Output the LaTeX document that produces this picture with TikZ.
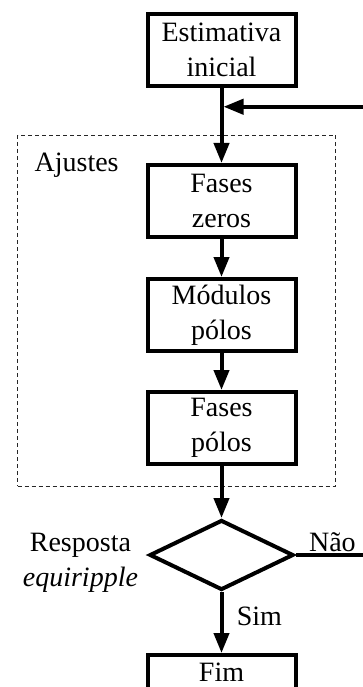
\documentclass[tikz,border=0pt]{standalone}
\usepackage{fontspec}
\setmainfont{Liberation Serif}
\usetikzlibrary{arrows.meta,calc,fit,positioning,shapes.geometric}

\begin{document}
\begin{tikzpicture}[
  x=1pt, y=1pt,
  font=\fontsize{28}{35}\selectfont,
  block/.style={draw=black, line width=4pt, minimum width=148pt, minimum height=72pt,
    text width=140pt, align=center, inner sep=0pt},
  decision/.style={diamond, draw=black, line width=4pt, minimum width=144pt,
    minimum height=70pt, inner sep=0pt, aspect=2},
  arrow/.style={-{Triangle[length=20pt,width=15pt]}, line width=4pt, draw=black},
  group/.style={draw=black!85, line width=0.8pt, dash pattern=on 4pt off 3pt, inner sep=0pt}
]
  \useasboundingbox (0,0) rectangle (363,-687);
  \clip (0,0) rectangle (363,-687);

  \node[block] (estimativa) at (221.5,-50) {Estimativa\\inicial};
  \node[block, below=75pt of estimativa] (fzeros) {Fases\\zeros};
  \node[block, below=38pt of fzeros] (mpolos) {Módulos\\pólos};
  \node[block, below=37pt of mpolos] (fpolos) {Fases\\pólos};
  \node[decision, below=52pt of fpolos] (teste) {};
  \node[block, minimum height=34pt, below=61pt of teste] (fim) {Fim};

  \node[left=6pt of teste, yshift=-8pt, align=center] (pergunta)
    {Resposta\\\textit{equiripple}};
  \node[above right=0pt and 10pt of teste.east] (nao) {Não};

  % grupo de ajustes
  \coordinate (gtl) at ($(fzeros.north west)+(-128pt,28pt)$);
  \coordinate (gbr) at ($(fpolos.south east)+(38pt,-20pt)$);
  \node[group, fit=(gtl)(gbr)] (ajustesbox) {};
  \node[below right=15pt and 14pt of ajustesbox.north west] (ajustes) {Ajustes};

  \draw[arrow] (estimativa) -- (fzeros);
  \draw[arrow] (fzeros) -- (mpolos);
  \draw[arrow] (mpolos) -- (fpolos);
  \draw[arrow] (fpolos) -- (teste);
  \draw[arrow] (teste) -- node[right=10pt, pos=0.4] (sim) {Sim} (fim);

  % realimentacao
  \coordinate (retorno) at ($(estimativa.south)!0.25!(fzeros.north)$);
  \coordinate (volta) at ($(teste.east)+(90pt,0)$);
  \draw[arrow, shorten >=2pt] (teste.east) -- (volta) |- (retorno);
\end{tikzpicture}
\end{document}
